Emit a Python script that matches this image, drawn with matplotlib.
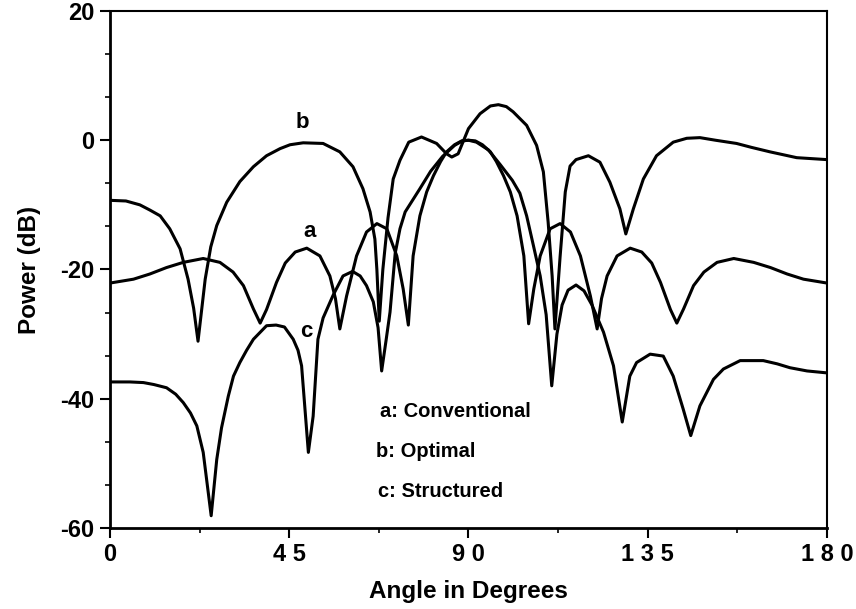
import matplotlib
matplotlib.use("Agg")
import matplotlib.pyplot as plt
from matplotlib.ticker import MultipleLocator

# a: conventional array pattern
a_angle = [0, 5.9, 10, 14.2, 18.4, 23.4, 27.6, 30.9, 33.5, 36, 37.7, 39.3, 41.8, 44,
           46.5, 49.4, 52.7, 55.2, 56.6, 57.7, 59.4, 61.9, 64.4, 67, 69.5, 72, 73.6,
           74.9, 76.1, 77.8, 79.5, 81.2, 83, 84.5, 86.5, 88.3, 90,
           91.7, 93.5, 95.5, 97, 98.8, 100.5, 102.2, 103.9, 105.1, 106.4, 108, 110.5,
           113, 115.6, 118.1, 120.6, 122.3, 123.4, 124.8, 127.3, 130.6, 133.5, 136,
           138.2, 140.7, 142.3, 144, 146.5, 149.1, 152.4, 156.6, 161.6, 165.8, 170,
           174.1, 180]
a_db = [-22.1, -21.5, -20.7, -19.7, -18.9, -18.3, -18.9, -20.4, -22.5, -26.1, -28.3,
        -26.2, -22.0, -19.0, -17.3, -16.7, -17.9, -21.0, -24.5, -29.2, -24.1, -17.9,
        -14.2, -12.9, -13.7, -17.9, -23.0, -28.6, -17.9, -11.7, -8.0, -5.5, -3.3,
        -1.8, -0.7, -0.1, 0.0,
        -0.1, -0.7, -1.8, -3.3, -5.5, -8.0, -11.7, -17.9, -28.4, -23.0, -17.9, -13.7,
        -12.9, -14.2, -17.9, -24.1, -29.2, -24.5, -21.0, -17.9, -16.7, -17.3, -19.0,
        -22.0, -26.2, -28.3, -26.1, -22.5, -20.4, -18.9, -18.3, -18.9, -19.7, -20.7,
        -21.5, -22.1]

# b: optimal
b_angle = [0, 4, 7.5, 10, 12.6, 15, 17.6, 19.6, 21, 22.1, 23.9, 25.3, 26.8, 29.3,
           32.6, 36, 39.3, 42.7, 45.2, 48.5, 53.5, 57.7, 61, 63.5, 65.3, 66.5, 67,
           67.6, 68.5, 69.8, 71.1, 72.8, 75, 78.2, 82, 84.5, 85.8, 87.4, 90, 92.9,
           95.5, 97.5, 99.5, 101.2, 104.6, 107.1, 108.8, 110, 111, 111.7, 112.3, 113,
           114.3, 115.5, 117, 120.1, 123, 125.5, 128, 129.5, 131.4, 133.9, 137.2,
           141.4, 144.8, 148.1, 152, 157.3, 161, 165.7, 172.4, 180]
b_db = [-9.3, -9.4, -10.0, -10.8, -11.7, -13.7, -16.8, -21.5, -26.0, -31.1, -21.5,
        -16.5, -13.2, -9.6, -6.4, -4.1, -2.4, -1.3, -0.7, -0.4, -0.5, -1.8, -4.1,
        -7.5, -11.1, -15.3, -20.0, -28.0, -20.0, -12.0, -6.0, -3.1, -0.3, 0.5, -0.5,
        -2.1, -2.6, -2.1, 1.8, 4.1, 5.3, 5.5, 5.2, 4.4, 2.3, -0.8, -4.9, -12.7,
        -21.0, -29.2, -24.0, -18.0, -8.0, -4.0, -3.0, -2.4, -3.4, -6.5, -10.6,
        -14.5, -10.6, -6.0, -2.4, -0.3, 0.3, 0.4, 0.0, -0.5, -1.1, -1.8, -2.7, -3.0]

# c: structured
c_angle = [0, 5, 8.4, 11, 14.2, 16.5, 18.4, 20.2, 21.8, 23.4, 25.4, 26.8, 28, 29.7,
           31, 32.6, 34.3, 36, 39.3, 41.7, 43.8, 46, 47.2, 48.1, 49.8, 51, 52.2,
           53.5, 56, 58.5, 60.9, 62.8, 64.4, 66.1, 67.3, 68.2, 69.3, 70.3, 71.6,
           72.8, 74.1, 77.8, 80.5, 83.5, 86.5, 88.5, 90, 92, 95, 98, 101, 102.9,
           104.6, 106.3, 108, 109.5, 110.9, 112.2, 113.5, 115, 117, 119, 121, 123.9,
           126.4, 128.6, 130.5, 132.2, 135.6, 138.9, 141.4, 143.9, 145.8, 148.1,
           151.5, 154, 158.2, 164, 167.5, 170.7, 175, 180]
c_db = [-37.4, -37.4, -37.5, -37.8, -38.3, -39.3, -40.6, -42.2, -44.2, -48.3, -58.1,
        -49.4, -44.5, -39.6, -36.5, -34.4, -32.5, -30.8, -28.7, -28.6, -28.9, -30.8,
        -32.5, -34.9, -48.3, -42.7, -30.8, -27.5, -24.0, -21.0, -20.3, -21.0, -22.5,
        -25.0, -29.0, -35.7, -31.0, -26.6, -17.5, -13.7, -11.1, -7.5, -4.8, -2.5,
        -0.8, -0.1, 0.0, -0.3, -1.5, -3.8, -6.2, -8.2, -11.7, -16.3, -21.0, -27.0,
        -38.0, -30.0, -25.5, -23.2, -22.4, -23.3, -25.5, -29.7, -34.9, -43.6, -36.5,
        -34.4, -33.1, -33.4, -36.5, -41.6, -45.7, -41.1, -37.0, -35.4, -34.1, -34.1,
        -34.6, -35.2, -35.7, -36.0]

x_ticks = [0, 45, 90, 135, 180]
x_ticklabels = ["0", "4 5", "9 0", "1 3 5", "1 8 0"]
y_ticks = [-60, -40, -20, 0, 20]

plt.rcParams["font.family"] = ["Liberation Sans", "DejaVu Sans"]
plt.rcParams["font.weight"] = "bold"
plt.rcParams["axes.unicode_minus"] = False

fig = plt.figure(figsize=(8.56, 6.09), dpi=100)
ax = fig.add_axes([0.1285, 0.133, 0.8376, 0.849])

for xs, ys in [(a_angle, a_db), (b_angle, b_db), (c_angle, c_db)]:
    ax.plot(xs, ys, color="black", lw=2.2, solid_joinstyle="round")

ax.set_xlim(0, 180)
ax.set_ylim(-60, 20)
ax.set_xticks(x_ticks)
ax.set_xticklabels(x_ticklabels)
ax.set_yticks(y_ticks)
ax.xaxis.set_minor_locator(MultipleLocator(22.5))
ax.yaxis.set_minor_locator(MultipleLocator(20 / 3))
ax.tick_params(which="major", direction="out", length=7, width=1.5,
               labelsize=17, pad=4)
ax.tick_params(which="minor", direction="out", length=3.5, width=1.2)
for lab in ax.get_xticklabels() + ax.get_yticklabels():
    lab.set_fontweight("bold")

for side in ["left", "bottom"]:
    ax.spines[side].set_linewidth(2.0)
for side in ["top", "right"]:
    ax.spines[side].set_linewidth(1.5)

ax.set_xlabel("Angle in Degrees", fontsize=17.5, fontweight="bold", labelpad=10)
ax.set_ylabel("Power (dB)", fontsize=17.5, fontweight="bold", labelpad=14)

# curve tags
ax.text(48.2, 2.8, "b", fontsize=16, fontweight="bold", ha="center", va="center")
ax.text(50.2, -14.2, "a", fontsize=16, fontweight="bold", ha="center", va="center")
ax.text(49.4, -29.6, "c", fontsize=16, fontweight="bold", ha="center", va="center")

ax.text(67.8, -41.9, "a: Conventional", fontsize=14.5, fontweight="bold", va="center")
ax.text(66.8, -48.1, "b: Optimal", fontsize=14.5, fontweight="bold", va="center")
ax.text(67.3, -54.4, "c: Structured", fontsize=14.5, fontweight="bold", va="center")

fig.savefig("out.png", dpi=100)
